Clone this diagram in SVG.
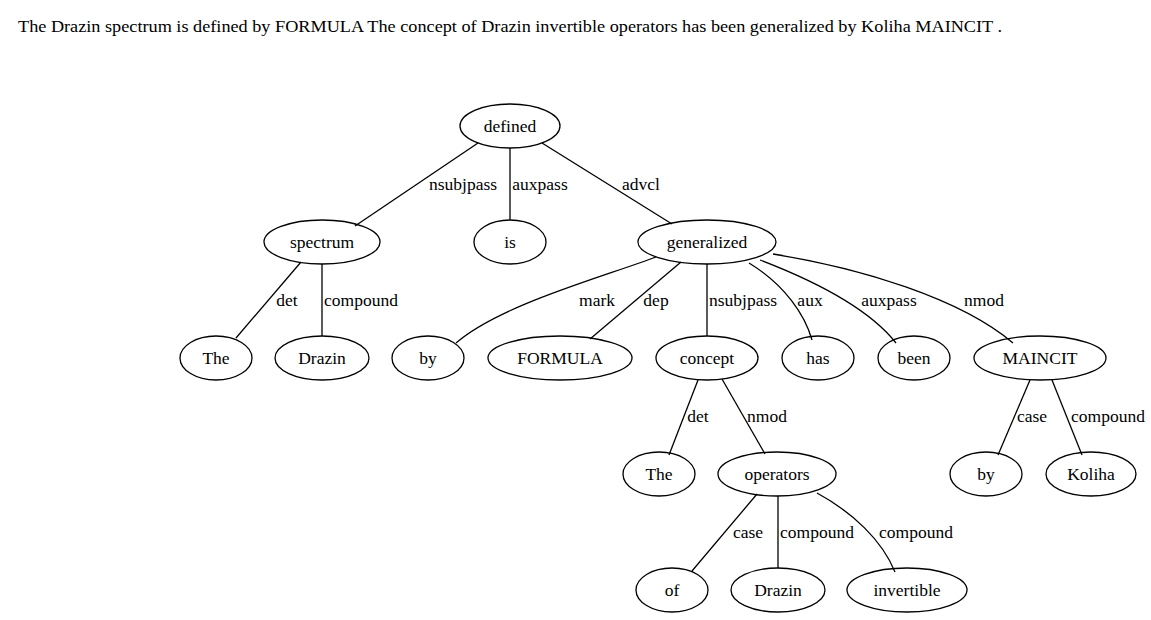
<svg xmlns="http://www.w3.org/2000/svg" width="1151" height="620" viewBox="0 0 1151 620">
<style>
text{font-family:"Liberation Serif","Times New Roman",serif;font-size:17.5px;fill:#000}
.n ellipse{fill:none;stroke:#000;stroke-width:1.3}
.n text{text-anchor:middle}
.e path{fill:none;stroke:#000;stroke-width:1.3}
.e text{text-anchor:middle}
</style>
<rect width="1151" height="620" fill="#fff"/>
<text id="sentence" x="18" y="32" textLength="984" lengthAdjust="spacingAndGlyphs">The Drazin spectrum is defined by FORMULA The concept of Drazin invertible operators has been generalized by Koliha MAINCIT .</text>
<g id="edges" class="e">
<path d="M478,143 L355,226"/><text x="463" y="190">nsubjpass</text>
<path d="M510,148 L510,220"/><text x="540" y="190">auxpass</text>
<path d="M542,143 L672,224"/><text x="641" y="190">advcl</text>
<path d="M301,262 L236,338"/><text x="287" y="306">det</text>
<path d="M322,264 L322,336"/><text x="361" y="306">compound</text>
<path d="M656,257 C600,278 500,305 456,343"/><text x="597" y="306">mark</text>
<path d="M681,262 L590,339"/><text x="656" y="306">dep</text>
<path d="M707,264 L707,336"/><text x="743" y="306">nsubjpass</text>
<path d="M749,263 C785,285 805,315 812,340"/><text x="810" y="306">aux</text>
<path d="M760,260 C820,283 870,310 896,343"/><text x="889" y="306">auxpass</text>
<path d="M773,254 C860,268 960,298 1013,343"/><text x="984" y="306">nmod</text>
<path d="M698,380 L669,455"/><text x="698" y="422">det</text>
<path d="M722,379 L765,454"/><text x="767" y="422">nmod</text>
<path d="M757,494 L692,571"/><text x="748" y="538">case</text>
<path d="M778,496 L778,568"/><text x="817" y="538">compound</text>
<path d="M817,493 C852,512 882,540 895,572"/><text x="916" y="538">compound</text>
<path d="M1030,380 L998,455"/><text x="1032" y="422">case</text>
<path d="M1052,380 L1082,455"/><text x="1108" y="422">compound</text>
</g>
<g id="n_defined" class="n"><ellipse cx="510" cy="126" rx="50" ry="22"/><text x="510" y="132">defined</text></g>
<g id="n_spectrum" class="n"><ellipse cx="322" cy="242" rx="58" ry="22"/><text x="322" y="248">spectrum</text></g>
<g id="n_is" class="n"><ellipse cx="510" cy="242" rx="36" ry="22"/><text x="510" y="248">is</text></g>
<g id="n_generalized" class="n"><ellipse cx="707" cy="242" rx="69" ry="22"/><text x="707" y="248">generalized</text></g>
<g id="n_The1" class="n"><ellipse cx="216" cy="358" rx="36" ry="22"/><text x="216" y="364">The</text></g>
<g id="n_Drazin1" class="n"><ellipse cx="322" cy="358" rx="47" ry="22"/><text x="322" y="364">Drazin</text></g>
<g id="n_by1" class="n"><ellipse cx="428" cy="358" rx="36" ry="22"/><text x="428" y="364">by</text></g>
<g id="n_FORMULA" class="n"><ellipse cx="560" cy="358" rx="72" ry="22"/><text x="560" y="364">FORMULA</text></g>
<g id="n_concept" class="n"><ellipse cx="707" cy="358" rx="51" ry="22"/><text x="707" y="364">concept</text></g>
<g id="n_has" class="n"><ellipse cx="818" cy="358" rx="36" ry="22"/><text x="818" y="364">has</text></g>
<g id="n_been" class="n"><ellipse cx="914" cy="358" rx="36" ry="22"/><text x="914" y="364">been</text></g>
<g id="n_MAINCIT" class="n"><ellipse cx="1040" cy="358" rx="66" ry="22"/><text x="1040" y="364">MAINCIT</text></g>
<g id="n_The2" class="n"><ellipse cx="659" cy="474" rx="36" ry="22"/><text x="659" y="480">The</text></g>
<g id="n_operators" class="n"><ellipse cx="777" cy="474" rx="59" ry="22"/><text x="777" y="480">operators</text></g>
<g id="n_by2" class="n"><ellipse cx="986" cy="474" rx="36" ry="22"/><text x="986" y="480">by</text></g>
<g id="n_Koliha" class="n"><ellipse cx="1091" cy="474" rx="45" ry="22"/><text x="1091" y="480">Koliha</text></g>
<g id="n_of" class="n"><ellipse cx="672" cy="590" rx="36" ry="22"/><text x="672" y="596">of</text></g>
<g id="n_Drazin2" class="n"><ellipse cx="778" cy="590" rx="47" ry="22"/><text x="778" y="596">Drazin</text></g>
<g id="n_invertible" class="n"><ellipse cx="907" cy="590" rx="60" ry="22"/><text x="907" y="596">invertible</text></g>
</svg>
